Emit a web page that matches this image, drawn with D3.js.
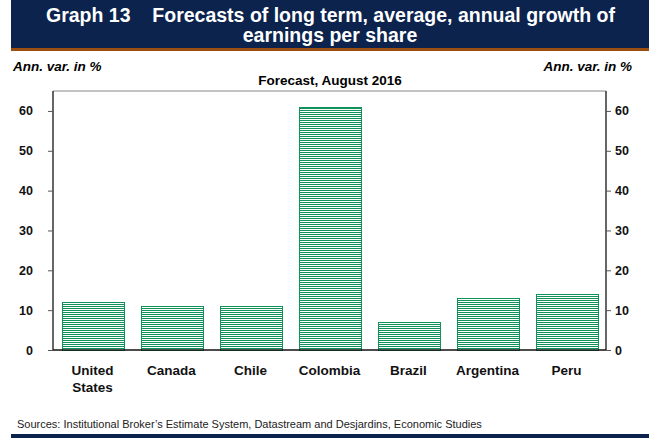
<!DOCTYPE html>
<html><head><meta charset="utf-8">
<script src="https://cdn.jsdelivr.net/npm/d3@7"></script>
<style>body{margin:0;background:#fff}svg{display:block;font-family:"Liberation Sans",Arial,sans-serif}</style>
</head><body>
<script>
const categories = [["United","States"],["Canada"],["Chile"],["Colombia"],["Brazil"],["Argentina"],["Peru"]];
const values = [12, 11, 11, 61, 7, 13, 14];
const yTicks = [0, 10, 20, 30, 40, 50, 60];

const W = 649, H = 438;
const svg = d3.select("body").append("svg").attr("width", W).attr("height", H);
const defs = svg.append("defs");
const pat = defs.append("pattern").attr("id","stripes").attr("patternUnits","userSpaceOnUse")
  .attr("width", 4).attr("height", 2);
pat.append("rect").attr("width",4).attr("height",2).attr("fill","#ffffff");
pat.append("rect").attr("width",4).attr("height",1).attr("fill","#12925a");

// title bar
svg.append("rect").attr("x",11).attr("y",0).attr("width",W-11).attr("height",48).attr("fill","#0b234d");
svg.append("rect").attr("x",11).attr("y",48).attr("width",W-11).attr("height",3).attr("fill","#9a4f10");
svg.append("text").attr("x",46).attr("y",22).attr("fill","#fff")
  .attr("font-weight","bold").attr("font-size",19.5).text("Graph 13");
svg.append("text").attr("x",615).attr("y",22).attr("text-anchor","end").attr("fill","#fff")
  .attr("font-weight","bold").attr("font-size",19.5).text("Forecasts of long term, average, annual growth of");
svg.append("text").attr("x",330).attr("y",42).attr("text-anchor","middle").attr("fill","#fff")
  .attr("font-weight","bold").attr("font-size",19.5).text("earnings per share");

svg.append("text").attr("x",13).attr("y",71).attr("font-style","italic").attr("font-weight","bold").attr("font-size",13.5).text("Ann. var. in %");
svg.append("text").attr("x",632).attr("y",71).attr("text-anchor","end").attr("font-style","italic").attr("font-weight","bold").attr("font-size",13.5).text("Ann. var. in %");
svg.append("text").attr("x",330).attr("y",85).attr("text-anchor","middle").attr("font-weight","bold").attr("font-size",13.5).text("Forecast, August 2016");

const L = 53, R = 606, T = 91, B = 350;
const x = d3.scaleBand().domain(d3.range(values.length)).range([L, R]).paddingInner(0.22).paddingOuter(0.11);
const y = d3.scaleLinear().domain([0, 65]).range([B, T]);

// top border
svg.append("line").attr("x1",L).attr("x2",R).attr("y1",T).attr("y2",T).attr("stroke","#888").attr("stroke-width",1.2);

svg.selectAll(".bar").data(values).enter().append("rect")
  .attr("x",(d,i)=>Math.round(x(i))+0.5).attr("width",Math.round(x.bandwidth()))
  .attr("y",d=>Math.round(y(d))+0.5).attr("height",d=>B-Math.round(y(d)))
  .attr("fill","url(#stripes)").attr("stroke","#12925a").attr("stroke-width",1);

const yl = d3.axisLeft(y).tickValues(yTicks).tickSize(5).tickPadding(10);
const yr = d3.axisRight(y).tickValues(yTicks).tickSize(5).tickPadding(4);
const gl = svg.append("g").attr("transform",`translate(${L},0)`).call(yl);
const gr = svg.append("g").attr("transform",`translate(${R},0)`).call(yr);
[gl,gr].forEach(g=>{
  g.select(".domain").attr("stroke","#333").attr("stroke-width",1.5).attr("d", `M0,${T}V${B}`);
  g.selectAll(".tick line").attr("stroke","#555");
  g.selectAll(".tick text").attr("font-size",12.5).attr("font-weight","bold").attr("fill","#111")
    .attr("font-family","Liberation Sans, Arial, sans-serif");
});
gl.selectAll(".tick text").attr("dx", -5);

// baseline
svg.append("line").attr("x1",L).attr("x2",R).attr("y1",B).attr("y2",B).attr("stroke","#111").attr("stroke-width",1.5);

// x labels
const xl = svg.append("g");
categories.forEach((c,i)=>{
  const t = xl.append("text").attr("x", x(i)+x.bandwidth()/2).attr("y", 375).attr("text-anchor","middle")
    .attr("font-weight","bold").attr("font-size",13.5).attr("fill","#111");
  c.forEach((s,j)=>t.append("tspan").attr("x", x(i)+x.bandwidth()/2).attr("dy", j===0?0:17).text(s));
});

svg.append("text").attr("x",17).attr("y",428).attr("font-size",11).attr("fill","#222")
  .text("Sources: Institutional Broker\u2019s Estimate System, Datastream and Desjardins, Economic Studies");
svg.append("rect").attr("x",11).attr("y",434).attr("width",W-11).attr("height",4).attr("fill","#0b234d");
</script>
</body></html>
